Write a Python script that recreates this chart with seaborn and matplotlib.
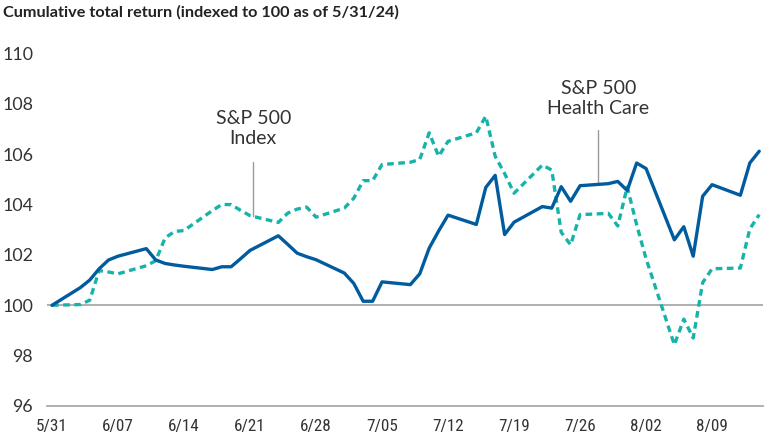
import numpy as np
import pandas as pd
import matplotlib
matplotlib.use("Agg")
import matplotlib.pyplot as plt
from matplotlib import font_manager
import seaborn as sns

# ---------------- data ----------------
dates = [
    "2024-05-31",
    "2024-06-03", "2024-06-04", "2024-06-05", "2024-06-06", "2024-06-07",
    "2024-06-10", "2024-06-11", "2024-06-12", "2024-06-13", "2024-06-14",
    "2024-06-17", "2024-06-18", "2024-06-19", "2024-06-20", "2024-06-21",
    "2024-06-24", "2024-06-25", "2024-06-26", "2024-06-27", "2024-06-28",
    "2024-07-01", "2024-07-02", "2024-07-03", "2024-07-04", "2024-07-05",
    "2024-07-08", "2024-07-09", "2024-07-10", "2024-07-11", "2024-07-12",
    "2024-07-15", "2024-07-16", "2024-07-17", "2024-07-18", "2024-07-19",
    "2024-07-22", "2024-07-23", "2024-07-24", "2024-07-25", "2024-07-26",
    "2024-07-29", "2024-07-30", "2024-07-31", "2024-08-01", "2024-08-02",
    "2024-08-05", "2024-08-06", "2024-08-07", "2024-08-08", "2024-08-09",
    "2024-08-12", "2024-08-13", "2024-08-14",
]

health_care = [
    100.00,
    100.70, 101.00, 101.45, 101.80, 101.95,
    102.25, 101.80, 101.66, 101.60, 101.55,
    101.42, 101.53, 101.53, 101.85, 102.18,
    102.76, 102.42, 102.07, 101.93, 101.81,
    101.28, 100.87, 100.16, 100.16, 100.93,
    100.82, 101.25, 102.27, 102.95, 103.58,
    103.21, 104.68, 105.16, 102.81, 103.30,
    103.92, 103.86, 104.71, 104.13, 104.75,
    104.83, 104.92, 104.56, 105.65, 105.43,
    102.60, 103.12, 101.95, 104.33, 104.79,
    104.37, 105.65, 106.12,
]

sp500 = [
    100.00,
    100.03, 100.20, 101.38, 101.32, 101.25,
    101.57, 101.77, 102.68, 102.93, 102.97,
    103.76, 104.00, 104.00, 103.77, 103.56,
    103.29, 103.66, 103.82, 103.90, 103.50,
    103.86, 104.25, 104.95, 104.95, 105.59,
    105.68, 105.79, 106.85, 105.92, 106.51,
    106.85, 107.51, 105.92, 105.23, 104.45,
    105.57, 105.37, 102.90, 102.40, 103.60,
    103.65, 103.15, 104.70, 103.20, 101.85,
    98.43, 99.45, 98.70, 100.90, 101.45,
    101.48, 103.03, 103.60,
]

series_names = ["S&P 500 Index", "S&P 500 Health Care"]
annotation_texts = ["S&P 500\nIndex", "S&P 500\nHealth Care"]

tick_dates = ["2024-05-31", "2024-06-07", "2024-06-14", "2024-06-21", "2024-06-28",
              "2024-07-05", "2024-07-12", "2024-07-19", "2024-07-26", "2024-08-02",
              "2024-08-09"]
tick_labels = ["5/31", "6/07", "6/14", "6/21", "6/28", "7/05", "7/12", "7/19",
               "7/26", "8/02", "8/09"]
y_ticks = [96, 98, 100, 102, 104, 106, 108, 110]
y_tick_labels = ["96", "98", "100", "102", "104", "106", "108", "110"]
title = "Cumulative total return (indexed to 100 as of 5/31/24)"

# ---------------- style ----------------
sns.set_theme(style="white")
plt.rcParams["font.family"] = ["Lato", "DejaVu Sans"]

BLUE = "#005c9e"
TEAL = "#17b3a9"
GRID = "#a9a9a9"
TEXT = "#333333"

avail = {f.name for f in font_manager.fontManager.ttflist}
xfont = next((f for f in ["Liberation Sans Narrow", "Roboto Condensed",
                          "Open Sans Condensed"] if f in avail), "Lato")

df = pd.DataFrame({
    "date": pd.to_datetime(dates),
    series_names[0]: sp500,
    series_names[1]: health_care,
}).melt(id_vars="date", var_name="series", value_name="value")

fig = plt.figure(figsize=(7.67, 4.41), dpi=100)
ax = fig.add_axes([47 / 767, 35 / 441, (763 - 47) / 767, (406 - 53.5) / 441])

ax.axhline(100, color=GRID, lw=1.3, zorder=1)

sns.lineplot(
    data=df, x="date", y="value", hue="series", style="series",
    hue_order=series_names, style_order=series_names,
    palette={series_names[0]: TEAL, series_names[1]: BLUE},
    dashes={series_names[0]: (2.0, 1.35), series_names[1]: ""},
    linewidth=2.4, legend=False, ax=ax, zorder=3,
)

start = pd.Timestamp(dates[0])
ax.set_xlim(start - pd.Timedelta(days=0.53), start + pd.Timedelta(days=75.4))
ax.set_ylim(y_ticks[0], y_ticks[-1])
ax.set_yticks(y_ticks)
ax.set_yticklabels(y_tick_labels)
ax.set_xticks(pd.to_datetime(tick_dates))
ax.set_xticklabels(tick_labels, fontfamily=xfont)
ax.set_xlabel("")
ax.set_ylabel("")

for s in ["top", "left", "right"]:
    ax.spines[s].set_visible(False)
ax.spines["bottom"].set_color(GRID)
ax.spines["bottom"].set_linewidth(1.3)

ax.tick_params(axis="y", length=0, pad=10, labelsize=12.8, labelcolor=TEXT)
ax.tick_params(axis="x", length=0, pad=9, labelsize=12.3, labelcolor=TEXT)

# ---------------- annotations ----------------
xnum = (pd.to_datetime(dates) - start).days.values.astype(float)

def add_label(text, day, line_top, text_y, values):
    d = start + pd.Timedelta(days=day)
    bottom = float(np.interp(day, xnum, values))
    ax.plot([d, d], [line_top, bottom], color="#9a9a9a", lw=1.0, zorder=2)
    ax.text(d, text_y, text, ha="center", va="center", multialignment="center",
            fontsize=14, color=TEXT, linespacing=1.22)

add_label(annotation_texts[0], 21.35, 105.71, 107.02, sp500)
add_label(annotation_texts[1], 57.93, 106.98, 108.22, health_care)

fig.text(3 / 767, 1 - 12 / 441, title, ha="left", va="center",
         fontsize=11.7, fontweight="bold", color="#222222")

fig.savefig("out.png", dpi=100, facecolor="white")
